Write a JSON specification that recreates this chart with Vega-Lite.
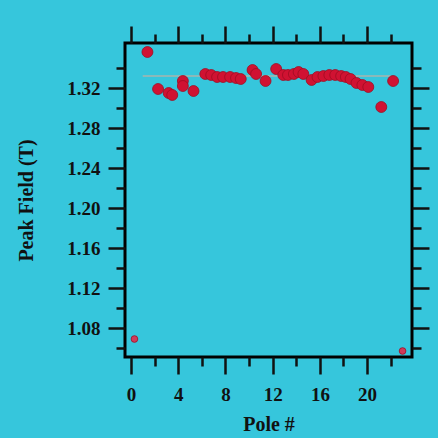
{
  "$schema": "https://vega.github.io/schema/vega-lite/v6.json",
  "width": 287,
  "height": 314,
  "autosize": {"type": "none"},
  "padding": {"left": 125, "top": 43, "right": 26, "bottom": 81},
  "background": "#36c6dc",
  "config": {
    "view": {"stroke": "#000", "strokeWidth": 3, "fill": "#36c6dc"},
    "axis": {
      "domain": false,
      "grid": false,
      "tickColor": "#111",
      "tickWidth": 2.5,
      "labelFont": "Liberation Serif",
      "labelFontSize": 19,
      "labelFontWeight": "bold",
      "labelColor": "#111",
      "titleFont": "Liberation Serif",
      "titleFontSize": 20,
      "titleFontWeight": "bold",
      "titleColor": "#111"
    }
  },
  "datasets": {
    "points": [
      {"pole": 0.3, "field": 1.069, "group": "end"},
      {"pole": 1.4, "field": 1.356, "group": "main"},
      {"pole": 2.3, "field": 1.319, "group": "main"},
      {"pole": 3.2, "field": 1.315, "group": "main"},
      {"pole": 3.5, "field": 1.313, "group": "main"},
      {"pole": 4.4, "field": 1.327, "group": "main"},
      {"pole": 4.4, "field": 1.322, "group": "main"},
      {"pole": 5.3, "field": 1.317, "group": "main"},
      {"pole": 6.3, "field": 1.334, "group": "main"},
      {"pole": 6.8, "field": 1.333, "group": "main"},
      {"pole": 7.3, "field": 1.331, "group": "main"},
      {"pole": 7.8, "field": 1.331, "group": "main"},
      {"pole": 8.4, "field": 1.331, "group": "main"},
      {"pole": 8.9, "field": 1.330, "group": "main"},
      {"pole": 9.3, "field": 1.329, "group": "main"},
      {"pole": 10.3, "field": 1.338, "group": "main"},
      {"pole": 10.6, "field": 1.334, "group": "main"},
      {"pole": 11.4, "field": 1.327, "group": "main"},
      {"pole": 12.3, "field": 1.339, "group": "main"},
      {"pole": 12.9, "field": 1.333, "group": "main"},
      {"pole": 13.3, "field": 1.333, "group": "main"},
      {"pole": 13.8, "field": 1.334, "group": "main"},
      {"pole": 14.2, "field": 1.336, "group": "main"},
      {"pole": 14.6, "field": 1.334, "group": "main"},
      {"pole": 15.3, "field": 1.328, "group": "main"},
      {"pole": 15.8, "field": 1.331, "group": "main"},
      {"pole": 16.3, "field": 1.332, "group": "main"},
      {"pole": 16.8, "field": 1.333, "group": "main"},
      {"pole": 17.3, "field": 1.333, "group": "main"},
      {"pole": 17.8, "field": 1.332, "group": "main"},
      {"pole": 18.2, "field": 1.331, "group": "main"},
      {"pole": 18.6, "field": 1.329, "group": "main"},
      {"pole": 19.1, "field": 1.325, "group": "main"},
      {"pole": 19.6, "field": 1.323, "group": "main"},
      {"pole": 20.1, "field": 1.321, "group": "main"},
      {"pole": 21.2, "field": 1.301, "group": "main"},
      {"pole": 22.2, "field": 1.327, "group": "main"},
      {"pole": 23.0, "field": 1.057, "group": "end"}
    ],
    "mean": [
      {"start": 1, "end": 22, "field": 1.332}
    ]
  },
  "layer": [
    {
      "data": {"name": "mean"},
      "mark": {"type": "rule", "color": "#a8b4ae", "strokeWidth": 1.5},
      "encoding": {
        "x": {
          "field": "start", "type": "quantitative",
          "scale": {"domain": [-0.5, 23.8], "nice": false, "zero": false},
          "axis": {
            "orient": "top", "title": null, "labels": false,
            "values": [0, 2, 4, 6, 8, 10, 12, 14, 16, 18, 20, 22],
            "tickSize": {"condition": {"test": "datum.value % 4 === 0", "value": 17}, "value": 9}
          }
        },
        "x2": {"field": "end"},
        "y": {
          "field": "field", "type": "quantitative",
          "scale": {"domain": [1.051, 1.365], "nice": false, "zero": false},
          "axis": {
            "orient": "right", "title": null, "labels": false,
            "values": [1.06, 1.08, 1.10, 1.12, 1.14, 1.16, 1.18, 1.20, 1.22, 1.24, 1.26, 1.28, 1.30, 1.32, 1.34],
            "tickSize": {"condition": {"test": "round(datum.value*100) % 4 === 0", "value": 17}, "value": 9}
          }
        }
      }
    },
    {
      "data": {"name": "points"},
      "mark": {"type": "circle", "opacity": 1, "stroke": "#a00c22", "strokeWidth": 0.8},
      "encoding": {
        "x": {
          "field": "pole", "type": "quantitative",
          "scale": {"domain": [-0.5, 23.8], "nice": false, "zero": false},
          "axis": {
            "orient": "bottom", "title": "Pole #",
            "values": [0, 2, 4, 6, 8, 10, 12, 14, 16, 18, 20, 22],
            "labelExpr": "datum.value % 4 === 0 ? datum.label : ''",
            "tickSize": {"condition": {"test": "datum.value % 4 === 0", "value": 17}, "value": 9},
            "labelPadding": 11,
            "titlePadding": 10
          }
        },
        "y": {
          "field": "field", "type": "quantitative",
          "scale": {"domain": [1.051, 1.365], "nice": false, "zero": false},
          "axis": {
            "orient": "left", "title": "Peak Field (T)",
            "values": [1.06, 1.08, 1.10, 1.12, 1.14, 1.16, 1.18, 1.20, 1.22, 1.24, 1.26, 1.28, 1.30, 1.32, 1.34],
            "labelExpr": "round(datum.value*100) % 4 === 0 ? format(datum.value, '.2f') : ''",
            "tickSize": {"condition": {"test": "round(datum.value*100) % 4 === 0", "value": 17}, "value": 9},
            "labelPadding": 8,
            "titlePadding": 30
          }
        },
        "color": {"field": "group", "type": "nominal", "scale": {"domain": ["main", "end"], "range": ["#d01232", "#d03a5a"]}, "legend": null},
        "size": {"field": "group", "type": "nominal", "scale": {"domain": ["main", "end"], "range": [120, 45]}, "legend": null}
      }
    }
  ],
  "resolve": {"axis": {"x": "independent", "y": "independent"}}
}
